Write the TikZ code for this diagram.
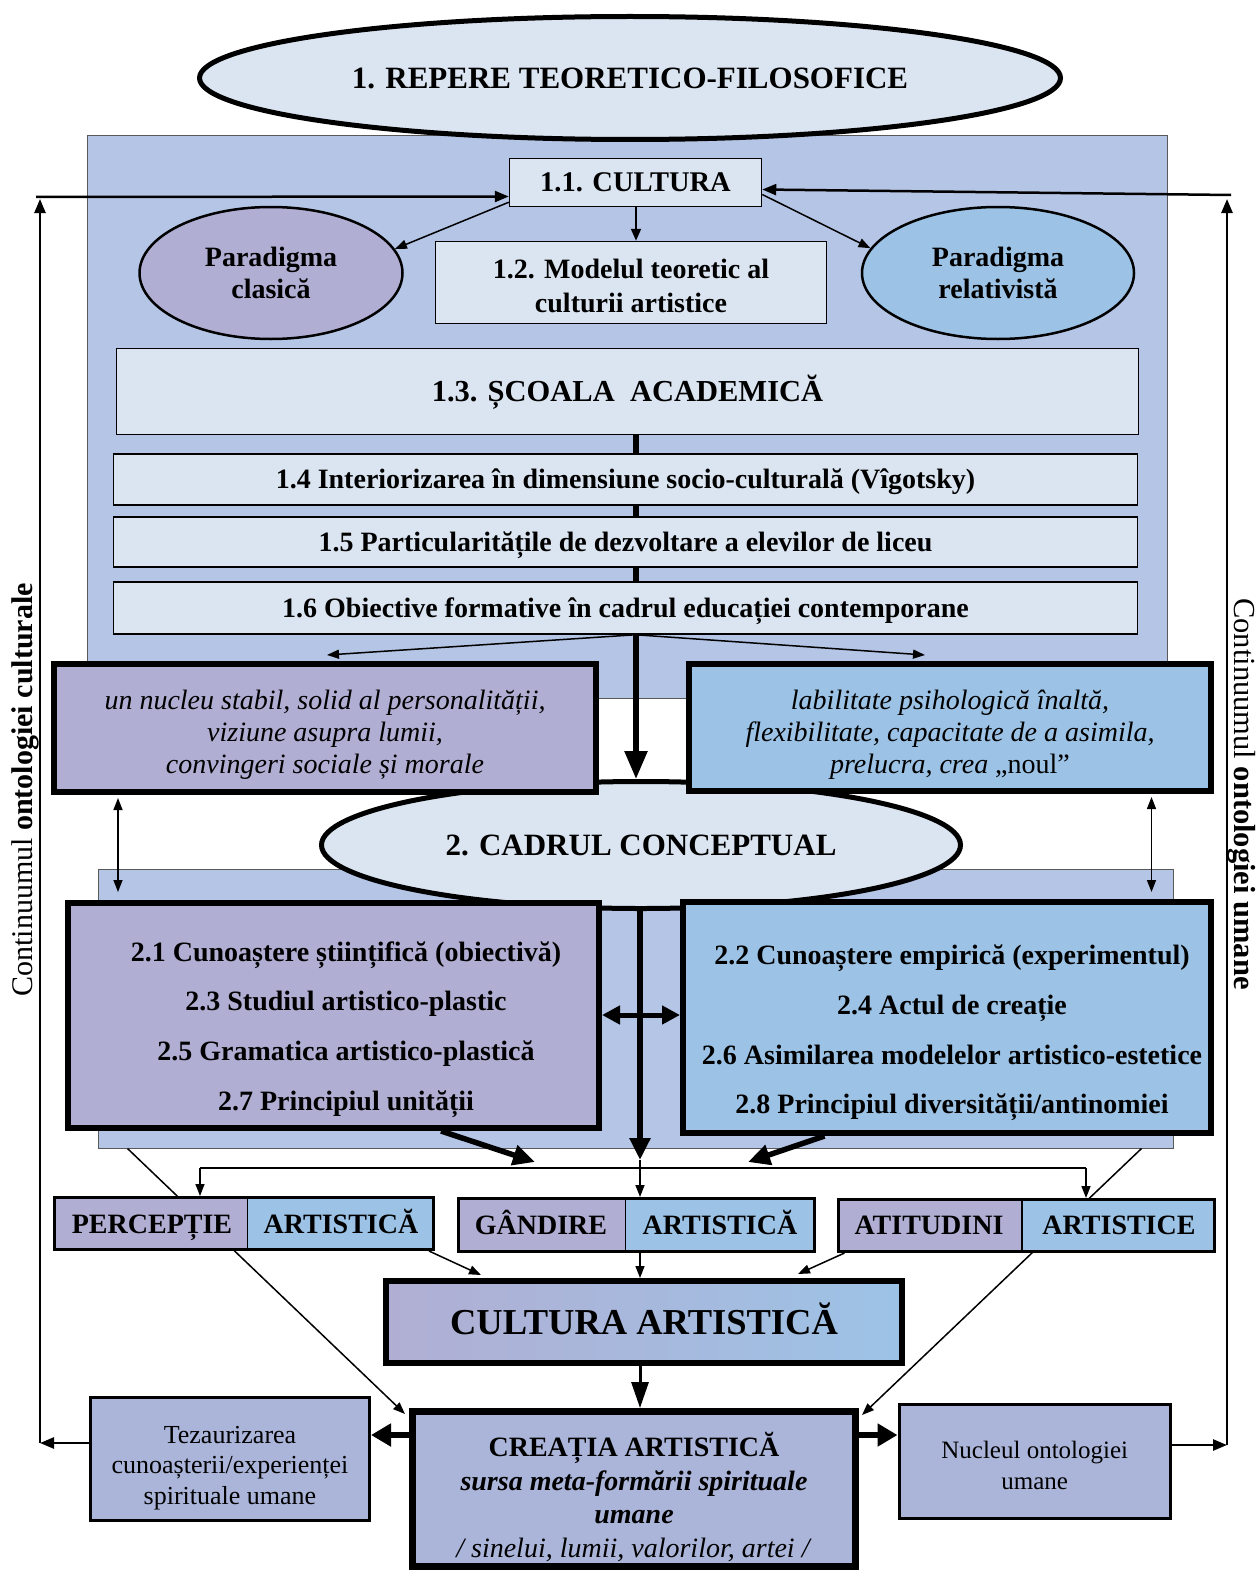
\documentclass[tikz,border=0pt]{standalone}
\usepackage{fontspec}
\setmainfont{Liberation Serif}
\usetikzlibrary{arrows.meta,shapes.geometric,calc}
\pgfdeclarelayer{back}
\pgfdeclarelayer{mid}
\pgfsetlayers{back,mid,main}
\definecolor{lite}{HTML}{DBE5F1}
\definecolor{panel}{HTML}{B4C5E6}
\definecolor{purp}{HTML}{B1AED3}
\definecolor{blu}{HTML}{9CC3E6}
\definecolor{gry}{HTML}{AAB5D9}
\newcommand{\fsz}[2]{\fontsize{#1}{#2}\selectfont}
\tikzset{
 box/.style={draw, rectangle, inner sep=0pt, align=center},
 ell/.style={draw, ellipse, inner sep=0pt, align=center},
 caph/.style={text height=#1, text depth=0pt},
 tarr/.style={line width=1.5pt, -{Triangle[length=12pt,width=9pt]}},
 tdbl/.style={line width=1.5pt, {Triangle[length=12pt,width=9pt]}-{Triangle[length=12pt,width=9pt]}},
 marr/.style={line width=2pt, -{Triangle[length=12pt,width=10pt]}},
 oarr/.style={line width=2.5pt, -{Triangle[length=14pt,width=11pt]}},
 karr/.style={line width=5.5pt, -{Triangle[length=22pt,width=20pt]}},
 kdbl/.style={line width=5pt, {Triangle[length=18pt,width=18pt]}-{Triangle[length=18pt,width=18pt]}},
 txt/.style={inner sep=0pt, align=center},
}
\begin{document}
\begin{tikzpicture}[x=1pt,y=-1pt]
\begin{pgfonlayer}{back}
\fill[white] (0,0) rectangle (1257,1573);
\node[box, draw=black!65, line width=1pt, fill=panel, minimum width=1080pt, minimum height=562pt] (p1) at (627,417) {};
\node[box, draw=black!65, line width=1pt, fill=panel, minimum width=1075pt, minimum height=279pt] (p2) at (635.5,1008.5) {};
\end{pgfonlayer}
\useasboundingbox (0,0) rectangle (1257,1573);

% ---- part 1
\node[ell, fill=lite, line width=5pt, minimum width=861pt, minimum height=123pt, caph=20.5pt, font={\fsz{31}{36}\bfseries}] (e1) at (630,78) {1. REPERE TEORETICO-FILOSOFICE};
\node[box, fill=lite, line width=1.5pt, minimum width=252pt, minimum height=48pt, caph=18.8pt, font={\fsz{28.5}{32}\bfseries}] (cul) at (635.5,182.5) {1.1. CULTURA};
\node[ell, fill=purp, line width=2.5pt, minimum width=263pt, minimum height=132pt, font={\fsz{28}{32}\bfseries}] (pc) at (271,273) {Paradigma\\clasică};
\node[ell, fill=blu, line width=2.5pt, minimum width=272pt, minimum height=132pt, font={\fsz{28}{32}\bfseries}] (pr) at (998,273) {Paradigma\\relativistă};
\node[box, fill=lite, line width=1.5pt, minimum width=391pt, minimum height=82pt] (m12) at (631,282.5) {};
\node[txt, font={\fsz{28}{34}\bfseries}] (m12t) at (631,286) {1.2. Modelul teoretic al\\culturii artistice};
\node[box, fill=lite, line width=1.5pt, minimum width=1022pt, minimum height=86pt, caph=20pt, font={\fsz{30.5}{34}\bfseries}] (s13) at (627.5,391.5) {1.3. ȘCOALA\ \ ACADEMICĂ};
\node[box, fill=lite, line width=1.5pt, minimum width=1024pt, minimum height=51pt, caph=18.5pt, font={\fsz{28}{32}\bfseries}] (s14) at (625.5,479.5) {1.4 Interiorizarea în dimensiune socio-culturală (Vîgotsky)};
\node[box, fill=lite, line width=1.5pt, minimum width=1024pt, minimum height=50pt, caph=18.5pt, font={\fsz{28}{32}\bfseries}] (s15) at (625.5,542) {1.5 Particularitățile de dezvoltare a elevilor de liceu};
\node[box, fill=lite, line width=1.5pt, minimum width=1024pt, minimum height=52pt, caph=18.5pt, font={\fsz{28}{32}\bfseries}] (s16) at (625.5,608) {1.6 Obiective formative în cadrul educației contemporane};

% ---- part 2
\node[ell, fill=lite, line width=5pt, minimum width=639pt, minimum height=127pt, caph=20.5pt, font={\fsz{31}{36}\bfseries}] (e2) at (641,845) {2. CADRUL CONCEPTUAL};
\node[box, fill=purp, line width=6pt, minimum width=542pt, minimum height=128pt] (kn) at (325,728) {};
\node[txt, font={\fsz{28}{32}\itshape}] (knt) at (325,735) {un nucleu stabil, solid al personalității,\\viziune asupra lumii,\\convingeri sociale și morale};
\node[box, fill=blu, line width=6pt, minimum width=522pt, minimum height=127pt] (fl) at (950,727.5) {};
\node[txt, font={\fsz{28}{32}\itshape}] (flt) at (950,734.5) {labilitate psihologică înaltă,\\flexibilitate, capacitate de a asimila,\\prelucra, crea {\upshape „noul”}};
\node[box, fill=purp, line width=6pt, minimum width=531pt, minimum height=225pt] (b21) at (333.5,1015.5) {};
\node[txt, font={\fsz{28}{49.7}\bfseries}] (t21) at (346,1029.5) {2.1 Cunoaștere științifică (obiectivă)\\2.3 Studiul artistico-plastic\\2.5 Gramatica artistico-plastică\\2.7 Principiul unității};
\node[box, fill=blu, line width=6pt, minimum width=528pt, minimum height=231pt] (b22) at (947,1017.5) {};
\node[txt, font={\fsz{28}{49.7}\bfseries}] (t22) at (952,1033) {2.2 Cunoaștere empirică (experimentul)\\2.4 Actul de creație\\2.6 Asimilarea modelelor artistico-estetice\\2.8 Principiul diversității/antinomiei};

% ---- split boxes
\fill[purp] (54.5,1197.5) rectangle (247.5,1249.5);
\fill[blu] (247.5,1197.5) rectangle (433.5,1249.5);
\node[box, line width=3pt, minimum width=379pt, minimum height=52pt] (perc) at (244,1223.5) {};
\coordinate (dv1) at (247.5,0);
\draw[line width=1.5pt] (perc.north -| dv1) -- (perc.south -| dv1);
\node[txt, caph=18.5pt, font={\fsz{28}{32}\bfseries}] (perc1) at (152,1224) {PERCEPȚIE};
\node[txt, caph=18.5pt, font={\fsz{28}{32}\bfseries}] (perc2) at (341,1224) {ARTISTICĂ};

\fill[purp] (458.5,1198.5) rectangle (625.5,1251.5);
\fill[blu] (625.5,1198.5) rectangle (814.5,1251.5);
\node[box, line width=3pt, minimum width=356pt, minimum height=53pt] (gand) at (636.5,1225) {};
\coordinate (dv2) at (625.5,0);
\draw[line width=1.5pt] (gand.north -| dv2) -- (gand.south -| dv2);
\node[txt, caph=18.5pt, font={\fsz{28}{32}\bfseries}] (gand1) at (541,1225) {GÂNDIRE};
\node[txt, caph=18.5pt, font={\fsz{28}{32}\bfseries}] (gand2) at (720,1225) {ARTISTICĂ};

\fill[purp] (838,1199.5) rectangle (1022,1251.5);
\fill[blu] (1022,1199.5) rectangle (1214,1251.5);
\node[box, line width=3pt, minimum width=376pt, minimum height=52pt] (atit) at (1026,1225.5) {};
\coordinate (dv3) at (1022,0);
\draw[line width=1.5pt] (atit.north -| dv3) -- (atit.south -| dv3);
\node[txt, caph=18.5pt, font={\fsz{28}{32}\bfseries}] (atit1) at (929,1225.5) {ATITUDINI};
\node[txt, caph=18.5pt, font={\fsz{28}{32}\bfseries}] (atit2) at (1119,1225.5) {ARTISTICE};

% ---- bottom
\node[box, line width=6pt, left color=purp, right color=blu, minimum width=516pt, minimum height=82pt, caph=24pt, font={\fsz{36.5}{40}\bfseries}] (cart) at (644,1322) {CULTURA ARTISTICĂ};
\node[box, fill=gry, line width=7pt, minimum width=443pt, minimum height=155pt] (crea) at (634,1489) {};
\node[txt, font={\fsz{28}{33.5}}] (creat) at (634,1497) {\textbf{CREAȚIA ARTISTICĂ}\\\textbf{\textit{sursa meta-formării spirituale}}\\\textbf{\textit{umane}}\\\textit{/ sinelui, lumii, valorilor, artei /}};
\node[box, fill=gry, line width=3pt, minimum width=279pt, minimum height=123pt] (tez) at (230,1459) {};
\node[txt, font={\fsz{26}{30.3}}] (tezt) at (230,1468) {Tezaurizarea\\cunoașterii/experienței\\spirituale umane};
\node[box, fill=gry, line width=3pt, minimum width=271.5pt, minimum height=114pt] (nuc) at (1034.75,1461.5) {};
\node[txt, font={\fsz{25}{30.5}}] (nuct) at (1034.75,1465.5) {Nucleul ontologiei\\umane};

% ---- side texts
\node[txt, rotate=90, font={\fsz{30}{34}}] (lt) at (25,790) {Continuumul \textbf{ontologiei culturale}};
\node[txt, rotate=-90, font={\fsz{30.5}{34}}] (rt) at (1242,794) {Continuumul \textbf{ontologiei umane}};

% ---- connectors
\coordinate (cx) at (636,0);
\coordinate (cx2) at (640,0);
\coordinate (xl) at (40,0);
\coordinate (xr) at (1227,0);
\coordinate (yb1) at (0,1443);
\coordinate (yb2) at (0,1445);
\coordinate (yt) at (0,199);
\coordinate (hl0) at (36,197);
\coordinate (hr0) at (1231,195);
\coordinate (aL) at (327,655);
\coordinate (aR) at (925,655);
\coordinate (xa) at (118,0);
\coordinate (xb) at (1151.5,0);
\coordinate (cm) at (640,1160);
\coordinate (hl) at (200,1168);
\coordinate (hr) at (1086,1168);
\coordinate (d1s) at (441,0);
\coordinate (d1e) at (535,1162);
\coordinate (d2s) at (824.5,0);
\coordinate (d2e) at (748,1162);
\coordinate (dy) at (0,1015);
\coordinate (ctl) at (405,1414);
\coordinate (ctr) at (862,1415);
\coordinate (c1e) at (481,1275);
\coordinate (c3e) at (798,1274);
\coordinate (yl) at (0,1435);

\begin{pgfonlayer}{mid}
\draw[karr, -{Triangle[length=28pt,width=22pt]}] (s13.south -| cx) -- (e2.north -| cx);
\draw[marr] (cul.south -| cx) -- (m12.north -| cx);
\draw[tarr] ($(cul.south west)+(0,-5)$) -- (pc.11);
\draw[tarr] ($(cul.east)+(0,12)$) -- (pr.169);
\draw[tarr] ($(s16.south)+(10,0)$) -- (aL);
\draw[tarr] ($(s16.south)+(10,0)$) -- (aR);
\draw[tdbl, shorten <=3pt, shorten >=8pt] (kn.south -| xa) -- (b21.north -| xa);
\draw[tdbl, shorten <=3pt, shorten >=7pt] (fl.south -| xb) -- (b22.north -| xb);
\draw[karr] (e2.south -| cx2) -- (cm);
\draw[tarr] (cm) -- (gand.north -| cm);
\draw[line width=2pt] (hl) -- (hr);
\draw[tarr] (hl) -- (perc.north -| hl);
\draw[tarr] (hr) -- (atit.north -| hr);
\draw[karr] (b21.south -| d1s) -- (d1e);
\draw[karr] (b22.south -| d2s) -- (d2e);
\draw[kdbl] (b21.east |- dy) -- (b22.west |- dy);
\draw[tarr] ($(p2.south west)+(30,0)$) -- (ctl);
\draw[tarr] ($(p2.south east)+(-32,0)$) -- (ctr);
\draw[tarr] ($(perc.south east)+(-6,0)$) -- (c1e);
\draw[tarr] (gand.south -| cx2) -- (cart.north -| cx2);
\draw[tarr] ($(atit.south west)+(8,0)$) -- (c3e);
\draw[line width=3pt, -{Triangle[length=26pt,width=17pt]}] (cart.south -| cx2) -- (crea.north -| cx2);
\draw[karr, -{Triangle[length=20pt,width=22pt]}] (crea.west |- yl) -- (tez.east |- yl);
\draw[karr, -{Triangle[length=20pt,width=22pt]}] (crea.east |- yl) -- (nuc.west |- yl);
\draw[oarr] (tez.west |- yb1) -- (xl |- yb1);
\draw[oarr] (xl |- yb1) -- (xl |- yt);
\draw[oarr] (hl0) -- ($(cul.west)+(0,14)$);
\draw[oarr] (nuc.east |- yb2) -- (xr |- yb2);
\draw[oarr] (xr |- yb2) -- (xr |- yt);
\draw[oarr] (hr0) -- ($(cul.east)+(0,7)$);
\end{pgfonlayer}
\end{tikzpicture}
\end{document}
